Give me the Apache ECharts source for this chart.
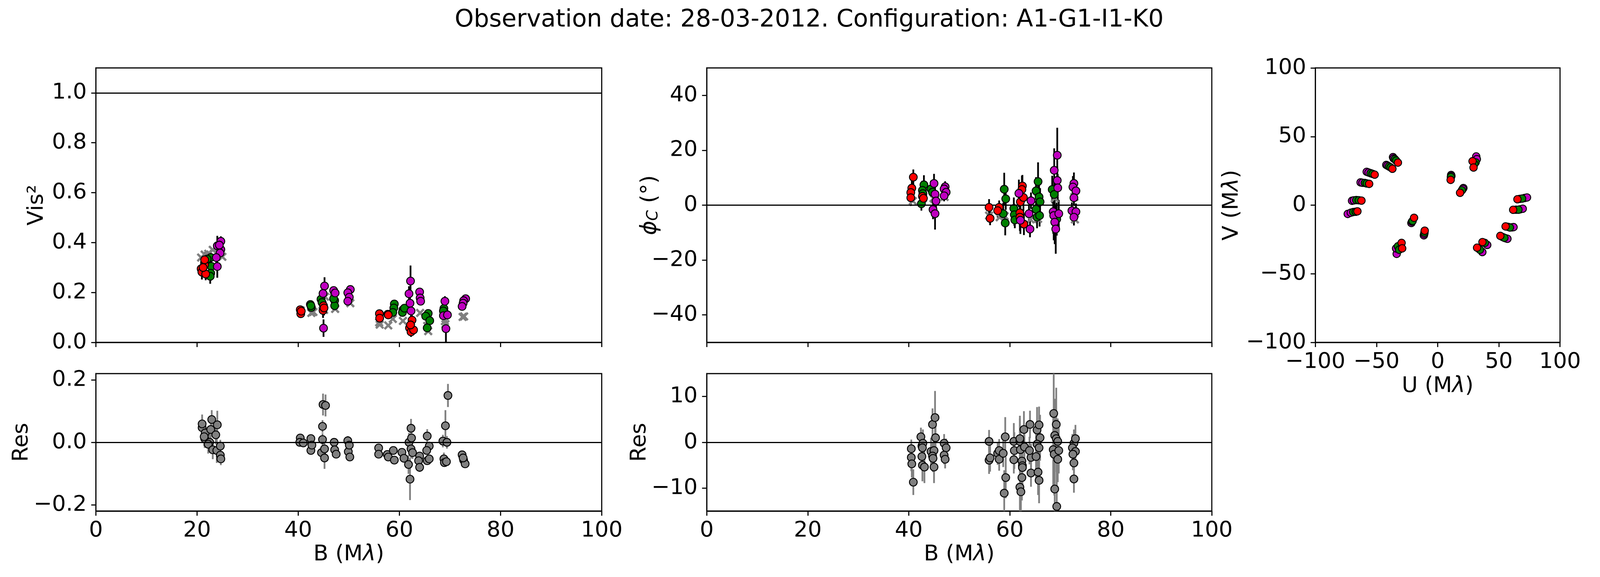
<!DOCTYPE html>
<html>
<head>
<meta charset="utf-8">
<script src="https://cdn.jsdelivr.net/npm/echarts@6/dist/echarts.min.js"></script>
<style>
html,body{margin:0;padding:0;background:#fff;overflow:hidden;}
#chart{width:100vw;height:100vh;}
</style>
</head>
<body>
<div id="chart"></div>
<script>
// ---------------- DATA ----------------
const titleText = 'Observation date: 28-03-2012. Configuration: A1-G1-I1-K0';

const v2Ticks = [0, 0.2, 0.4, 0.6, 0.8, 1.0];
const v2ResTicks = [-0.2, 0, 0.2];
const cpTicks = [-40, -20, 0, 20, 40];
const cpResTicks = [-10, 0, 10];

// Squared visibilities [B (Mlambda), Vis2, error]
const v2Red = [
  [20.8,0.295,0.03],[20.95,0.282,0.03],[21.5,0.311,0.03],[21.5,0.331,0.03],[21.7,0.274,0.025],[21.2,0.300,0.03],
  [40.4,0.131,0.01],[40.5,0.115,0.01],[40.6,0.125,0.01],
  [45.0,0.147,0.03],[44.9,0.128,0.03],[45.1,0.138,0.03],
  [56.05,0.115,0.01],[56.1,0.097,0.01],[57.7,0.113,0.01],[57.8,0.110,0.01],
  [62.5,0.089,0.02],[62.0,0.058,0.02],[62.3,0.042,0.02],[62.8,0.050,0.02],[62.2,0.070,0.02]
];
const v2Green = [
  [22.7,0.340,0.03],[22.0,0.334,0.03],[22.8,0.305,0.03],[22.7,0.277,0.03],[22.6,0.265,0.03],
  [42.4,0.152,0.01],[42.6,0.140,0.01],[42.5,0.147,0.01],
  [44.5,0.173,0.02],[44.7,0.160,0.02],
  [47.2,0.168,0.01],[47.2,0.147,0.01],[47.0,0.175,0.01],
  [59.0,0.154,0.01],[58.9,0.138,0.01],[58.7,0.120,0.01],
  [60.7,0.131,0.01],[60.6,0.120,0.01],[61.0,0.137,0.01],
  [65.7,0.116,0.01],[65.2,0.105,0.01],[66.0,0.087,0.01],[65.5,0.058,0.02],
  [68.8,0.136,0.01],[68.7,0.126,0.01]
];
const v2Mag = [
  [24.7,0.405,0.02],[24.0,0.387,0.04],[24.7,0.372,0.02],[24.55,0.358,0.02],[23.8,0.340,0.02],[24.0,0.304,0.045],[24.4,0.390,0.02],
  [45.2,0.226,0.035],[44.9,0.196,0.03],[45.0,0.057,0.035],
  [47.0,0.208,0.01],[47.3,0.198,0.01],
  [50.3,0.212,0.01],[49.8,0.199,0.01],[50.1,0.181,0.01],[49.8,0.165,0.01],
  [62.2,0.246,0.062],[61.9,0.195,0.03],[62.1,0.157,0.03],[62.3,0.126,0.03],
  [64.0,0.202,0.01],[64.1,0.178,0.01],[64.2,0.165,0.01],
  [69.0,0.165,0.02],[68.7,0.107,0.02],[69.5,0.110,0.02],[69.2,0.055,0.054],
  [73.1,0.175,0.005],[72.7,0.167,0.005],[72.6,0.157,0.005],[72.4,0.144,0.005]
];
const v2Model = [
  [20.8,0.340],[21.5,0.352],[22.2,0.355],[23.1,0.371],[24.2,0.360],[25.0,0.343],
  [40.5,0.128],[42.6,0.118],[43.0,0.122],[44.8,0.150],[45.3,0.183],[45.1,0.130],[47.0,0.180],[47.3,0.134],[50.0,0.175],[50.3,0.157],
  [56.1,0.071],[56.0,0.080],[57.8,0.068],[58.7,0.094],[60.7,0.086],[62.3,0.060],[64.1,0.118],[65.5,0.066],[65.7,0.045],
  [69.1,0.073],[69.0,0.085],[72.8,0.104],[72.5,0.102]
];
const v2Res = [
  [21.0,0.047,0.03],[21.0,0.059,0.03],[21.6,0.030,0.03],[21.5,0.012,0.03],[21.4,0.018,0.03],[22.9,0.073,0.03],[22.7,0.041,0.03],
  [22.5,0.000,0.03],[22.2,-0.006,0.03],[23.1,-0.024,0.03],[24.0,0.056,0.045],[23.7,0.024,0.03],[23.9,-0.026,0.04],
  [24.6,-0.012,0.02],[24.6,-0.041,0.02],[24.7,-0.053,0.02],
  [40.4,0.014,0.01],[40.3,0.000,0.01],[41.0,-0.002,0.01],[42.5,0.012,0.01],[42.5,-0.026,0.01],[42.7,-0.009,0.01],
  [44.8,0.051,0.02],[44.9,0.121,0.035],[45.4,0.118,0.035],[44.8,0.009,0.02],[44.6,-0.033,0.02],[45.2,-0.050,0.035],[45.2,-0.021,0.02],
  [47.1,0.000,0.01],[47.2,-0.024,0.01],[47.5,-0.038,0.01],[49.8,0.005,0.015],[49.9,-0.030,0.01],[50.2,-0.047,0.01],[50.1,-0.009,0.01],
  [55.9,-0.018,0.01],[55.9,-0.038,0.01],[57.6,-0.039,0.01],[57.8,-0.047,0.01],[58.8,-0.026,0.01],[59.0,-0.057,0.01],
  [60.5,-0.032,0.01],[60.9,-0.051,0.01],[61.8,-0.071,0.03],[62.1,-0.118,0.067],[61.9,0.000,0.03],[62.3,0.045,0.03],
  [62.4,0.014,0.03],[62.3,-0.021,0.03],[62.6,-0.033,0.02],[64.0,-0.044,0.01],[63.8,-0.059,0.01],[64.0,-0.080,0.015],
  [65.5,0.020,0.022],[65.9,-0.012,0.01],[65.4,-0.026,0.01],[65.5,-0.059,0.01],[65.9,-0.053,0.01],
  [68.6,0.004,0.02],[69.1,0.053,0.05],[69.6,0.150,0.037],[69.4,0.000,0.02],[68.8,-0.053,0.02],[68.9,-0.065,0.01],[69.3,-0.062,0.01],
  [72.4,-0.040,0.005],[72.7,-0.057,0.005],[73.0,-0.069,0.005],[72.6,-0.050,0.005]
];

// Closure phases [B (Mlambda), phi_C (deg), error]
const cpRed = [
  [40.9,10.2,2.8],[40.6,6.2,3],[40.4,4.6,3],[40.4,2.7,3],
  [42.7,3.2,3],[42.9,2.5,3],
  [55.9,-0.8,3],[56.1,-4.8,2.5],
  [57.9,-0.8,2.5],[57.6,-2.0,2.5],
  [62.1,1.2,5],[62.5,7.0,4],[62.4,5.7,5],[62.0,-2.8,5],[62.0,-4.4,5],[62.8,-6.9,4],[62.7,2.8,5]
];
const cpGreen = [
  [43.0,7.4,3.5],[42.7,5.4,3.5],[42.5,0.5,2.5],[42.8,4.2,3],
  [44.4,5.9,3],[44.7,4.7,3],
  [58.9,5.8,6],[59.2,2.3,4],[58.7,-3.1,4],[59.1,-6.5,4.5],
  [60.8,-1.2,4],[60.9,-3.5,4],[61.0,-5.4,3],
  [65.6,8.6,7],[65.2,5.2,5],[65.8,3.0,5],[66.0,1.2,5],[65.2,-1.5,5],[65.4,-4.4,4],[65.9,-3.8,4],
  [68.4,5.7,5],[68.8,3.9,5],[69.3,-5.1,6]
];
const cpMag = [
  [45.0,7.9,3.5],[45.2,4.0,3.5],[45.4,1.5,3.5],[44.8,-1.6,3.5],[45.2,-3.1,5.8],
  [47.2,6.7,2],[47.0,5.9,2],[47.4,4.7,2],[47.0,3.4,2],
  [61.8,4.3,5],[62.1,-5.5,5],
  [64.2,1.6,3],[63.8,-3.1,3],[64.0,-8.7,3],
  [69.4,18.2,10],[68.8,12.7,8],[69.4,9.0,5],[69.5,6.3,5],[68.6,-2.4,8],[68.7,-3.8,9],[69.7,-3.1,5],[68.9,-6.2,8],[69.1,-8.7,9],
  [72.7,7.9,4],[72.5,6.6,4],[73.1,5.2,3],[72.7,2.7,3],[72.3,-2.0,3],[73.1,-2.4,3],[72.7,-4.4,3]
];
const cpModel = [
  [40.8,1.5],[42.8,2.5],[44.9,2.5],[45.2,2.0],[47.1,3.0],[55.9,-3.8],[58.0,-4.4],[59.0,-4.0],[61.0,-4.2],
  [62.1,-4.0],[62.3,2.5],[64.1,-5.2],[65.6,-5.0],[65.5,2.8],[68.9,2.5],[69.0,-5.3],[72.8,3.0],[72.9,-5.2]
];
const cpRes = [
  [40.5,-1.4,2],[40.5,-3.3,3],[40.6,-4.7,3],[40.9,-8.7,2.8],
  [42.4,1.2,2],[42.6,-0.8,3],[42.8,-0.2,3],[42.7,-1.2,3],[42.6,-3.1,3],[42.7,-5.0,3.5],[43.1,-5.4,3.5],
  [44.7,3.9,3.5],[45.2,5.4,5.8],[45.3,1.0,3],[44.4,-2.0,3],[45.0,-1.8,3],[44.7,-3.0,3],[44.8,-3.5,3],[45.0,-5.4,3.5],
  [47.0,-0.2,2],[47.4,-1.2,2],[47.0,-2.8,2],[47.2,-3.7,2],
  [55.9,0.2,2.5],[55.9,-3.9,3],[56.1,-3.4,3],
  [57.6,-2.4,2.5],[57.9,-1.8,2.5],[57.9,-3.7,2.5],[58.7,-2.4,3],[59.1,1.2,4.3],[58.9,-11.1,5],[59.2,-7.7,4.5],
  [60.8,0.2,4],[60.9,-1.8,4],[60.8,-3.8,3],
  [62.0,0.2,5],[62.0,0.8,5],[62.1,-1.6,5],[62.4,-4.1,5],[62.5,-5.1,5],[62.5,-5.5,4],[62.4,-7.7,5],[62.0,-9.8,5.5],[62.2,-10.8,5.5],[62.8,2.8,4],[62.9,-1.0,4],
  [64.0,3.9,3],[64.2,-3.3,3],[64.2,-6.7,3],[63.9,-1.8,3],
  [65.4,2.7,5],[65.8,3.8,4],[66.0,1.0,5],[65.4,-0.4,5],[65.2,-3.1,5],[65.8,-1.2,5],[65.6,-6.5,5],[65.8,-8.3,5],
  [68.7,6.3,10],[69.2,3.9,8],[68.9,1.5,8],[69.2,0.8,5],[68.6,-1.6,8],[68.8,-2.6,9],[69.5,0.2,5],[69.7,-1.8,5],[69.5,-3.7,5],[68.9,-10.2,9],[69.3,-14.0,10],
  [72.7,-0.2,3],[73.0,0.8,3],[72.4,-1.2,3],[73.0,-2.0,3],[72.5,-2.6,3.5],[72.7,-4.5,3],[72.7,-8.0,3]
];

// uv coverage [U (Mlambda), V (Mlambda)]
const uvMag = [
  [-73.5,-6.4],[-71,-5.5],[-70,3.2],[-68.5,3.5],[-63,16.6],[-61.5,16.3],[-58,24.3],[-56.5,23.8],
  [-42,29.3],[-41,28.8],[-36.5,35],[-36,34],[-33.5,-35.5],[-34,-31.5],[-21.5,-13],[-21,-12],
  [-11.3,-22],[-11,-21],[11,22],[11.2,21.2],[21,12.5],[20.5,11.8],[31.5,35.5],[32,33.5],
  [36.5,-34.2],[40.5,-29],[55.8,-24.2],[57,-24.5],[60.5,-16.2],[62,-16],[67.5,-3],[69.5,-2.6],[71,5.2],[73,5.6]
];
const uvGreen = [
  [-69,-5.0],[-67,-4.8],[-66.5,3.7],[-64.5,3.6],[-59.5,16.2],[-58,15.8],[-54.8,23.3],[-53.2,22.8],
  [-39.8,28.2],[-38.5,27.5],[-35,33.5],[-34,32.5],[-32.5,-30],[-31.5,-32.5],[-20.5,-11.5],
  [-10.8,-20],[10.8,20.5],[19.8,10.8],[31,31.2],[30,30],
  [34.5,-32.5],[38.5,-27.5],[53,-23.2],[54.5,-23.8],[57.5,-15.8],[59,-16.3],[64,-3.3],[66,-3.3],[67.2,4.6],[69,4.8]
];
const uvRed = [
  [-65.6,-4.5],[-62.3,3.3],[-56,15.5],[-51.5,22.2],[-37,26.5],[-32.5,31],[-29.5,-27.5],[-29,-31.5],
  [-19.3,-9.2],[-10.6,-18.6],[10.6,18.4],[18.3,9.0],[28.5,32],[29.3,27.4],
  [32.2,-31],[36.6,-26.9],[51.2,-22.4],[55.5,-15.5],[61.7,-3.4],[65.2,4.3]
];

// ---------------- STYLE / LAYOUT ----------------
// Layout is designed for 4204 x 1478 and scaled to the real viewport.
const W = window.innerWidth || 4204, H = window.innerHeight || 1478;
const SX = W / 4204, SY = H / 1478;
const FONT = 'DejaVu Sans';
const FS = 56;
const RED = '#ff0000', GREEN = '#008000', MAG = '#bf00bf', GRAY = '#808080';
const LW = 2.8;
const XPATH = 'path://M0,1.8L1.8,0L5,3.2L8.2,0L10,1.8L6.8,5L10,8.2L8.2,10L5,6.8L1.8,10L0,8.2L3.2,5Z';

const gridRects = [
  [252, 174, 1329, 703],
  [252, 957, 1329, 352],
  [1857, 174, 1327, 703],
  [1857, 957, 1327, 352],
  [3456, 174, 643, 703]
];
const grids = gridRects.map(r => ({
  show: true, borderColor: '#000', borderWidth: LW, backgroundColor: 'transparent', containLabel: false,
  left: r[0] * SX, top: r[1] * SY, width: r[2] * SX, height: r[3] * SY
}));

const minus = s => String(s).replace('-', '\u2212');
const nameStyle = {
  fontSize: FS, fontFamily: FONT, color: '#000', lineHeight: FS,
  rich: {
    it: {fontStyle: 'italic', fontSize: FS, fontFamily: FONT, color: '#000', lineHeight: FS},
    sub: {fontStyle: 'italic', fontSize: 39, fontFamily: FONT, color: '#000', lineHeight: 20, verticalAlign: 'bottom'},
    n: {fontSize: FS, fontFamily: FONT, color: '#000', lineHeight: FS}
  }
};

function axisBase(o) {
  const a = {
    type: 'value',
    axisLine: {show: true, onZero: false, lineStyle: {color: '#000', width: LW}},
    axisTick: {show: true, length: 12, lineStyle: {color: '#000', width: LW}},
    axisLabel: {show: true, fontSize: FS, fontFamily: FONT, color: '#000', lineHeight: FS},
    splitLine: {show: false},
    nameLocation: 'middle',
    nameTextStyle: nameStyle,
    nameMoveOverlap: false
  };
  if (o.labelShow === false) a.axisLabel.show = false;
  if (o.customTicks) {
    a.axisLabel.customValues = o.customTicks;
    a.axisTick.customValues = o.customTicks;
  }
  delete o.labelShow; delete o.customTicks;
  if (o.fmt) { a.axisLabel.formatter = o.fmt; delete o.fmt; }
  if (o.margin != null) { a.axisLabel.margin = o.margin; delete o.margin; }
  return Object.assign(a, o);
}

const bFmt = v => minus(v);
const xAxes = [
  axisBase({gridIndex: 0, min: 0, max: 100, interval: 20, labelShow: false}),
  axisBase({gridIndex: 1, min: 0, max: 100, interval: 20, fmt: bFmt, margin: 22 * SY, name: '{n|B (M}{it|\u03bb}{n|)}', nameGap: 83 * SY}),
  axisBase({gridIndex: 2, min: 0, max: 100, interval: 20, labelShow: false}),
  axisBase({gridIndex: 3, min: 0, max: 100, interval: 20, fmt: bFmt, margin: 22 * SY, name: '{n|B (M}{it|\u03bb}{n|)}', nameGap: 83 * SY}),
  axisBase({gridIndex: 4, min: -100, max: 100, interval: 50, fmt: bFmt, margin: 22 * SY, name: '{n|U (M}{it|\u03bb}{n|)}', nameGap: 84 * SY})
];
const yAxes = [
  axisBase({gridIndex: 0, min: 0, max: 1.1, customTicks: v2Ticks, fmt: v => minus(v.toFixed(1)), margin: 24 * SX, name: 'Vis\u00b2', nameGap: 126 * SX}),
  axisBase({gridIndex: 1, min: -0.22, max: 0.22, customTicks: v2ResTicks, fmt: v => minus(v.toFixed(1)), margin: 24 * SX, name: 'Res', nameGap: 166 * SX}),
  axisBase({gridIndex: 2, min: -50, max: 50, customTicks: cpTicks, fmt: v => minus(v), margin: 24 * SX, name: '{it|\u03d5}{sub|C}{n| (\u00b0)}', nameGap: 120 * SX}),
  axisBase({gridIndex: 3, min: -15, max: 15, customTicks: cpResTicks, fmt: v => minus(v), margin: 24 * SX, name: 'Res', nameGap: 148 * SX}),
  axisBase({gridIndex: 4, min: -100, max: 100, interval: 50, fmt: v => minus(v), margin: 24 * SX, name: '{n|V (M}{it|\u03bb}{n|)}', nameGap: 191 * SX})
];

function refLine(idx, yVal) {
  return {
    type: 'line', xAxisIndex: idx, yAxisIndex: idx, data: [], silent: true, z: 1,
    markLine: {silent: true, symbol: ['none', 'none'], label: {show: false},
      lineStyle: {color: '#000', width: LW, type: 'solid'}, emphasis: {disabled: true},
      data: [{yAxis: yVal}], animation: false}
  };
}
function errSeries(data, idx, color) {
  return {
    type: 'custom', xAxisIndex: idx, yAxisIndex: idx, data: data, clip: true, silent: true, z: 2,
    encode: {x: 0, y: 1},
    renderItem: function (params, api) {
      const x = api.value(0), y = api.value(1), e = api.value(2);
      const p1 = api.coord([x, y - e]);
      const p2 = api.coord([x, y + e]);
      return {type: 'line', shape: {x1: p1[0], y1: p1[1], x2: p2[0], y2: p2[1]},
        style: {stroke: color, lineWidth: 4.5, lineCap: 'butt'}};
    }
  };
}
function dots(data, idx, color, z, size) {
  return {
    type: 'scatter', xAxisIndex: idx, yAxisIndex: idx, data: data, clip: true, silent: true, z: z || 4,
    symbol: 'circle', symbolSize: size || 20,
    itemStyle: {color: color, borderColor: '#000', borderWidth: 2.3, opacity: 1}
  };
}
function model(data, idx) {
  return {
    type: 'scatter', xAxisIndex: idx, yAxisIndex: idx, data: data, clip: true, silent: true, z: 3,
    symbol: XPATH, symbolSize: 23,
    itemStyle: {color: GRAY, opacity: 1}
  };
}

const series = [
  refLine(0, 1.0), refLine(1, 0), refLine(2, 0), refLine(3, 0),
  // Vis2 panel
  model(v2Model, 0),
  errSeries(v2Green, 0, '#000'), errSeries(v2Red, 0, '#000'), errSeries(v2Mag, 0, '#000'),
  dots(v2Green, 0, GREEN, 4), dots(v2Red, 0, RED, 5), dots(v2Mag, 0, MAG, 6),
  // Vis2 residuals
  errSeries(v2Res, 1, GRAY), dots(v2Res, 1, GRAY, 4),
  // Closure phase panel
  model(cpModel, 2),
  errSeries(cpGreen, 2, '#000'), errSeries(cpRed, 2, '#000'), errSeries(cpMag, 2, '#000'),
  dots(cpGreen, 2, GREEN, 4), dots(cpRed, 2, RED, 5), dots(cpMag, 2, MAG, 6),
  // CP residuals
  errSeries(cpRes, 3, GRAY), dots(cpRes, 3, GRAY, 4),
  // uv plane
  dots(uvMag, 4, MAG, 4, 19), dots(uvGreen, 4, GREEN, 5, 19), dots(uvRed, 4, RED, 6, 19)
];

const chart = echarts.init(document.getElementById('chart'), null, {renderer: 'canvas', width: W, height: H});
chart.setOption({
  animation: false,
  backgroundColor: '#fff',
  textStyle: {fontFamily: FONT},
  graphic: [{
    type: 'text', x: 2126 * SX, y: 51.5 * SY, silent: true,
    style: {text: titleText, fontSize: 62, fontFamily: FONT, fill: '#000', textAlign: 'center', textVerticalAlign: 'middle'}
  }],
  grid: grids,
  xAxis: xAxes,
  yAxis: yAxes,
  series: series
});
</script>
</body>
</html>
